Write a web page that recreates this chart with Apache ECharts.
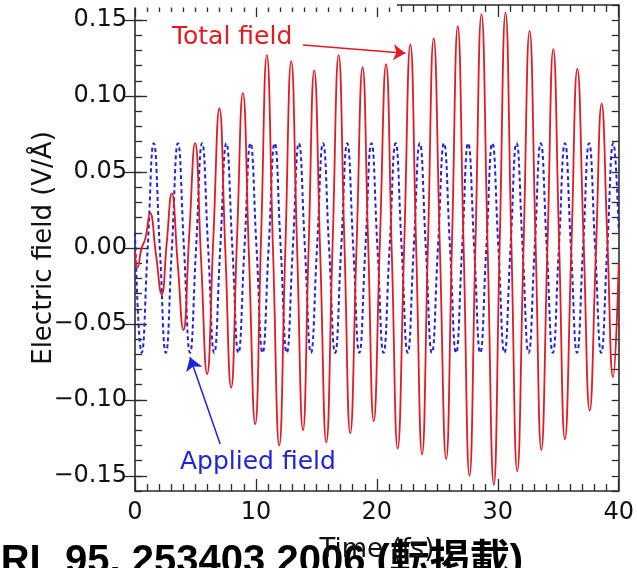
<!DOCTYPE html>
<html>
<head>
<meta charset="utf-8">
<script src="https://cdn.jsdelivr.net/npm/echarts@6/dist/echarts.min.js"></script>
<style>
html,body{margin:0;padding:0;background:#fff;}
#chart{width:637px;height:568px;}
</style>
</head>
<body>
<div id="chart"></div>
<script>
// ---- data ----
const xTickValues = [0, 10, 20, 30, 40];
const yTickValues = [-0.15, -0.10, -0.05, 0.00, 0.05, 0.10, 0.15];

// Applied field (blue dashed): extrema and zero crossings
const blueTime = [0, 0.55, 1.05, 1.55, 2.05, 2.55, 3.05, 3.55, 4.05, 4.55, 5.05, 5.55, 6.05, 6.55, 7.05, 7.55, 8.05, 8.55, 9.05, 9.55,
  10.05, 10.55, 11.05, 11.55, 12.05, 12.55, 13.05, 13.55, 14.05, 14.55, 15.05, 15.55, 16.05, 16.55, 17.05, 17.55, 18.05, 18.55, 19.05, 19.55,
  20.05, 20.55, 21.05, 21.55, 22.05, 22.55, 23.05, 23.55, 24.05, 24.55, 25.05, 25.55, 26.05, 26.55, 27.05, 27.55, 28.05, 28.55, 29.05, 29.55,
  30.05, 30.55, 31.05, 31.55, 32.05, 32.55, 33.05, 33.55, 34.05, 34.55, 35.05, 35.55, 36.05, 36.55, 37.05, 37.55, 38.05, 38.55, 39.05, 39.55, 40];
const blueField = [0.010,
  -0.069, 0, 0.069, 0, -0.069, 0, 0.069, 0, -0.069, 0, 0.069, 0, -0.069, 0, 0.069, 0, -0.069, 0, 0.069, 0,
  -0.069, 0, 0.069, 0, -0.069, 0, 0.069, 0, -0.069, 0, 0.069, 0, -0.069, 0, 0.069, 0, -0.069, 0, 0.069, 0,
  -0.069, 0, 0.069, 0, -0.069, 0, 0.069, 0, -0.069, 0, 0.069, 0, -0.069, 0, 0.069, 0, -0.069, 0, 0.069, 0,
  -0.069, 0, 0.069, 0, -0.069, 0, 0.069, 0, -0.069, 0, 0.069, 0, -0.069, 0, 0.069, 0, -0.069, 0, 0.069,
  0.011];

// Total field (red solid): extrema and midline crossings
const redTime = [0, 0.2, 0.55, 0.85, 1.25, 1.73, 2.21, 2.62, 3.04, 3.52, 4.00, 4.48, 4.97, 5.46, 5.96, 6.47, 6.98, 7.46, 7.95, 8.43,
  8.92, 9.43, 9.94, 10.42, 10.90, 11.41, 11.93, 12.42, 12.92, 13.40, 13.89, 14.35, 14.82, 15.32, 15.82, 16.33, 16.84, 17.32, 17.80, 18.31,
  18.82, 19.28, 19.74, 20.25, 20.76, 21.24, 21.72, 22.25, 22.77, 23.25, 23.74, 24.22, 24.70, 25.21, 25.73, 26.21, 26.69, 27.17, 27.66, 28.15,
  28.65, 29.16, 29.67, 30.15, 30.64, 31.12, 31.61, 32.12, 32.63, 33.12, 33.60, 34.10, 34.59, 35.07, 35.55, 36.07, 36.58, 37.09, 37.60, 38.10,
  38.59, 39.06, 39.53, 40.00];
const redField = [-0.002, -0.013, 0.000, 0.006, 0.023, -0.004, -0.0305, 0.003, 0.036, -0.009, -0.054, 0.008, 0.069, -0.007, -0.083, 0.005, 0.092, 0.000, -0.092, 0.005,
  0.102, -0.007, -0.116, 0.005, 0.127, -0.001, -0.130, -0.004, 0.123, 0.001, -0.120, -0.002, 0.117, -0.005, -0.128, 0.000, 0.127, 0.002, -0.122, -0.002,
  0.119, 0.003, -0.114, 0.004, 0.121, -0.005, -0.132, -0.001, 0.134, 0.000, -0.136, 0.001, 0.138, 0.000, -0.139, 0.003, 0.146, 0.002, -0.150, 0.002,
  0.154, 0.000, -0.156, 0.000, 0.155, 0.004, -0.147, -0.002, 0.143, 0.005, -0.133, -0.001, 0.131, 0.003, -0.126, -0.004, 0.118, 0.006, -0.107, -0.006,
  0.095, 0.005, -0.085, -0.010];

// annotation arrows (data coordinates)
const totalArrow = [[13.9, 0.1336], [22.36, 0.1283]];
const appliedArrow = [[7.04, -0.129], [4.55, -0.0719]];

// ---- chart ----
const FONT = 'DejaVu Sans';
const AX = '#2a2a2a';
const RED = '#e31a22';
const BLUE = '#2222dd';
const zip = (a, b) => a.map((t, i) => [t, b[i]]);
const fmtY = v => (v < -1e-9 ? '\u2212' : '') + Math.abs(v).toFixed(2);

const baseX = {
  type: 'value', min: 0, max: 40, interval: 10,
  axisLine: { show: true, onZero: false, lineStyle: { color: AX, width: 1.6 } },
  axisTick: { show: true, inside: true, length: 12, lineStyle: { color: AX, width: 1.3 } },
  minorTick: { show: true, splitNumber: 10, length: 7, lineStyle: { color: AX, width: 1.3 } },
  splitLine: { show: false }, minorSplitLine: { show: false }
};
const minorY = {
  type: 'value', min: -0.16, max: 0.16, interval: 0.01,
  axisLine: { show: true, onZero: false, lineStyle: { color: AX, width: 1.6 } },
  axisTick: { show: true, inside: true, length: 7, lineStyle: { color: AX, width: 1.3 } },
  axisLabel: { show: false }, splitLine: { show: false }
};
const majorY = {
  type: 'value', min: -0.16, max: 0.16,
  axisLine: { show: false },
  axisTick: { show: true, inside: true, length: 12, customValues: yTickValues, lineStyle: { color: AX, width: 1.3 } },
  axisLabel: { show: false }, splitLine: { show: false }
};

const chart = echarts.init(document.getElementById('chart'), null, { renderer: 'canvas' });
chart.setOption({
  animation: false,
  backgroundColor: '#fff',
  grid: { left: 135, right: 17, top: 5, bottom: 77, containLabel: false },
  xAxis: [
    Object.assign({}, baseX, {
      position: 'bottom', zlevel: 1,
      axisLabel: { show: true, customValues: xTickValues, margin: 10, fontFamily: FONT, fontSize: 24, color: '#111' },
      name: 'Time (fs)', nameLocation: 'middle', nameGap: 46,
      nameTextStyle: { fontFamily: FONT, fontSize: 26, color: '#111' }
    }),
    Object.assign({}, baseX, { position: 'top', axisLabel: { show: false } })
  ],
  yAxis: [
    Object.assign({}, minorY, {
      position: 'left',
      name: 'Electric field (V/\u00C5)', nameLocation: 'middle', nameGap: 78,
      nameTextStyle: { fontFamily: FONT, fontSize: 26, color: '#111' }
    }),
    Object.assign({}, majorY, {
      position: 'left',
      axisLabel: { show: true, customValues: yTickValues, formatter: fmtY, margin: 8, fontFamily: FONT, fontSize: 24, color: '#111' }
    }),
    Object.assign({}, minorY, { position: 'right' }),
    Object.assign({}, majorY, { position: 'right' })
  ],
  series: [
    {
      name: 'Applied field', type: 'line', xAxisIndex: 0, yAxisIndex: 0,
      data: zip(blueTime, blueField), smooth: 0.5, showSymbol: false, symbol: 'none',
      lineStyle: { color: BLUE, width: 2, type: [4, 3] }, z: 2,
      markLine: {
        silent: true, symbol: ['none', 'arrow'], symbolSize: 13, label: { show: false },
        lineStyle: { color: BLUE, width: 1.5, type: 'solid' },
        data: [[{ coord: appliedArrow[0] }, { coord: appliedArrow[1] }]]
      }
    },
    {
      name: 'Total field', type: 'line', xAxisIndex: 0, yAxisIndex: 0,
      data: zip(redTime, redField), smooth: 0.5, showSymbol: false, symbol: 'none',
      lineStyle: { color: RED, width: 1.8 }, z: 3,
      markLine: {
        silent: true, symbol: ['none', 'arrow'], symbolSize: 12, label: { show: false },
        lineStyle: { color: RED, width: 1.5, type: 'solid' },
        data: [[{ coord: totalArrow[0] }, { coord: totalArrow[1] }]]
      }
    }
  ],
  graphic: [
    { type: 'rect', z: 100, shape: { x: 134, y: 0, width: 263, height: 7.5 }, style: { fill: '#fff' } },
    { type: 'text', z: 100, x: 172, y: 37, style: { text: 'Total field', fill: RED, font: '25px "DejaVu Sans"', verticalAlign: 'middle' } },
    { type: 'text', z: 100, x: 180, y: 462, style: { text: 'Applied field', fill: BLUE, font: '25px "DejaVu Sans"', verticalAlign: 'middle' } },
    { type: 'text', z: 0, x: -26, y: 542, style: { text: 'PRL 95, 253403 2006 (\u8EE2\u63B2\u8F09)', fill: '#000', font: 'bold 40px "Liberation Sans", "Noto Sans CJK JP"', verticalAlign: 'top' } }
  ]
});
</script>
</body>
</html>
